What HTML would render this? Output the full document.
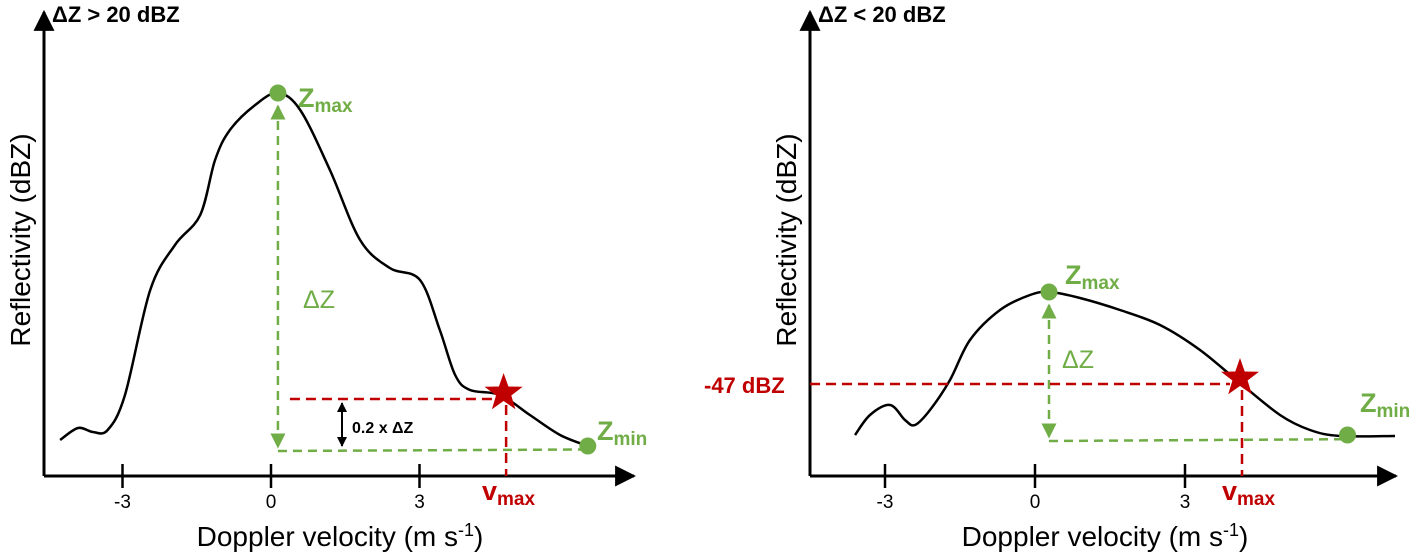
<!DOCTYPE html>
<html><head><meta charset="utf-8"><style>
html,body{margin:0;padding:0;background:#fff;}
svg{display:block;font-family:"Liberation Sans",sans-serif;}
.g{fill:#70ad47;font-weight:bold;}
.r{fill:#c00000;font-weight:bold;}
</style></head><body>
<svg id="chart" width="1418" height="553" viewBox="0 0 1418 553">
<defs>
<marker id="ah" viewBox="0 0 10 10" refX="9" refY="5" markerWidth="7" markerHeight="7" orient="auto-start-reverse"><path d="M0,0L10,5L0,10z" fill="#000"/></marker>
<marker id="gh" viewBox="0 0 10 10" refX="9" refY="5" markerWidth="6" markerHeight="6" orient="auto-start-reverse"><path d="M0,0L10,5L0,10z" fill="#70ad47"/></marker>
<marker id="bh" viewBox="0 0 10 10" refX="9" refY="5" markerWidth="5" markerHeight="5" orient="auto-start-reverse"><path d="M0,0L10,5L0,10z" fill="#000"/></marker>
</defs>
<g id="left">
<text x="52" y="22" font-size="22" font-weight="bold">ΔZ &gt; 20 dBZ</text>
<text transform="translate(30,240) rotate(-90)" font-size="28" text-anchor="middle">Reflectivity (dBZ)</text>
<text x="340" y="546" font-size="28" text-anchor="middle">Doppler velocity (m s<tspan dy="-10" font-size="18">-1</tspan><tspan dy="10">)</tspan></text>
<text x="352" y="433" font-size="16" font-weight="bold">0.2 x ΔZ</text>
<text x="298" y="107" font-size="27" class="g">Z<tspan font-size="19" dy="5">max</tspan></text>
<text x="303" y="308" font-size="25" fill="#70ad47">ΔZ</text>
<text x="597" y="440" font-size="27" class="g">Z<tspan font-size="19" dy="5">min</tspan></text>
<text x="482" y="500" font-size="27" class="r">v<tspan font-size="19" dy="5">max</tspan></text>
</g>
<g id="right">
<text x="818" y="22" font-size="22" font-weight="bold">ΔZ &lt; 20 dBZ</text>
<text transform="translate(796,240) rotate(-90)" font-size="28" text-anchor="middle">Reflectivity (dBZ)</text>
<text x="1105" y="546" font-size="28" text-anchor="middle">Doppler velocity (m s<tspan dy="-10" font-size="18">-1</tspan><tspan dy="10">)</tspan></text>
<text x="1065" y="284" font-size="27" class="g">Z<tspan font-size="19" dy="5">max</tspan></text>
<text x="1062" y="368" font-size="25" fill="#70ad47">ΔZ</text>
<text x="1360" y="412" font-size="27" class="g">Z<tspan font-size="19" dy="5">min</tspan></text>
<text x="1222" y="500" font-size="27" class="r">v<tspan font-size="19" dy="5">max</tspan></text>
<text x="704" y="393" font-size="22" class="r">-47 dBZ</text>
</g>
</svg>
<script>
const tickValues=[-3,0,3];
const tickLabels=["-3","0","3"];
const leftV=[-4.26,-3.9,-3.6,-3.3,-2.95,-2.44,-1.94,-1.43,-1.13,-0.83,-0.32,0.14,0.59,1.19,1.8,2.4,3.01,3.41,3.72,4.02,4.63,5.23,5.84,6.4];
const leftR=[8,11,10,10.5,19.25,45.5,56.75,64.25,78,85.5,91.75,94.75,90.5,75.5,58,51,48,35.5,24.25,20.5,19.25,14.25,9.25,6.5];
const rightV=[-3.6,-3.3,-2.9,-2.6,-2.4,-2.1,-1.7,-1.3,-0.7,-0.1,0.3,0.9,1.7,2.5,3.3,4.1,4.9,5.5,6.1,7.2];
const rightR=[9.25,14.25,16.75,13,11.75,15.5,23,33,40.5,44.25,45,43.5,40.5,36.75,30.5,22.25,14.25,10.5,9,9];
const leftMarks={zmax:[0.14,94.75],zmin:[6.4,6.5],base:5.25,star:[4.7,19.75],vmax:4.75};
const rightMarks={zmax:[0.28,45],zmin:[6.25,9.25],base:7.75,star:[4.1,23.5],vmax:4.14};
const NS="http://www.w3.org/2000/svg";
const svg=document.getElementById('chart');
function mk(tag,attrs,parent){const e=document.createElementNS(NS,tag);for(const k in attrs)e.setAttribute(k,attrs[k]);(parent||svg).appendChild(e);return e;}
function curvePath(pts){let d="M"+pts[0][0]+","+pts[0][1];for(let i=0;i<pts.length-1;i++){const p0=pts[Math.max(0,i-1)],p1=pts[i],p2=pts[i+1],p3=pts[Math.min(pts.length-1,i+2)];d+=" C"+(p1[0]+(p2[0]-p0[0])/6)+","+(p1[1]+(p2[1]-p0[1])/6)+" "+(p2[0]-(p3[0]-p1[0])/6)+","+(p2[1]-(p3[1]-p1[1])/6)+" "+p2[0]+","+p2[1];}return d;}
function star(cx,cy,R,r){let p=[];for(let i=0;i<10;i++){const a=-Math.PI/2+i*Math.PI/5,rr=i%2?r:R;p.push((cx+rr*Math.cos(a)).toFixed(1)+","+(cy+rr*Math.sin(a)).toFixed(1));}return p.join(" ");}
function panel(g,x0,xEnd,xs,ys,V,R,M,side){
  let e=mk('line',{x1:x0,y1:476,x2:x0,y2:12,stroke:'#000','stroke-width':3,'marker-end':'url(#ah)'},g);
  
  
  e=mk('line',{x1:x0,y1:476,x2:xEnd,y2:476,stroke:'#000','stroke-width':3,'marker-end':'url(#ah)'},g);
  
  
  tickValues.forEach((t,i)=>{
    const tk=mk('line',{x1:xs(t),y1:464,x2:xs(t),y2:488,stroke:'#000','stroke-width':2.5},g);
    
    
    const tl=mk('text',{x:xs(t),y:508,'font-size':19,'text-anchor':'middle'},g);tl.textContent=tickLabels[i];
    
    
  });
  const pts=V.map((v,i)=>[xs(v),ys(R[i])]);
  e=mk('path',{d:curvePath(pts),fill:'none',stroke:'#000','stroke-width':2.5},g);
  
  
  const zx=xs(M.zmax[0]),zy=ys(M.zmax[1]),by=ys(M.base),mx=xs(M.zmin[0]),my=ys(M.zmin[1]);
  e=mk('line',{x1:zx,y1:zy+13,x2:zx,y2:by-4,stroke:'#70ad47','stroke-width':2.5,'stroke-dasharray':'9,6','marker-start':'url(#gh)','marker-end':'url(#gh)'},g);
  
  
  e=mk('line',{x1:zx,y1:by,x2:mx-4,y2:by-(by-my)*0.3,stroke:'#70ad47','stroke-width':2.5,'stroke-dasharray':'9,6'},g);
  
  
  e=mk('circle',{cx:zx,cy:zy,r:8.5,fill:'#70ad47'},g);
  
  
  e=mk('circle',{cx:mx,cy:my,r:8.5,fill:'#70ad47'},g);
  
  
  const sx=xs(M.star[0]),sy=ys(M.star[1]),vx=xs(M.vmax);
  const hx1=side==='left'?zx+12:x0;
  e=mk('line',{x1:hx1,y1:sy+6,x2:sx-10,y2:sy+6,stroke:'#c00000','stroke-width':2.5,'stroke-dasharray':'10,6'},g);
  
  
  e=mk('line',{x1:vx,y1:sy+12,x2:vx,y2:476,stroke:'#c00000','stroke-width':2.5,'stroke-dasharray':'10,6'},g);
  
  
  e=mk('polygon',{points:star(sx,sy,20,8),fill:'#c00000'},g);
  
  
  if(side==='left'){
    e=mk('line',{x1:342,y1:sy+10,x2:342,y2:by-5,stroke:'#000','stroke-width':2,'marker-start':'url(#bh)','marker-end':'url(#bh)'},g);
    
    
  }
}
const xL=v=>271+v*49.5, yL=r=>472-r*4;
const xR=v=>1035+v*50, yR=r=>472-r*4;
panel(document.getElementById('left'),44,634,xL,yL,leftV,leftR,leftMarks,'left');
panel(document.getElementById('right'),810,1396,xR,yR,rightV,rightR,rightMarks,'right');
</script>
</body></html>
